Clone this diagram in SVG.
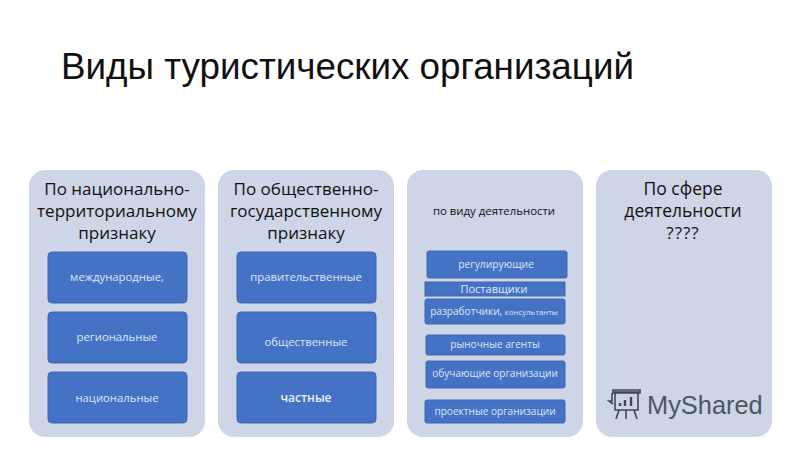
<svg xmlns="http://www.w3.org/2000/svg" width="800" height="450" viewBox="0 0 800 450">
<style>
text{font-family:"Open Sans","Noto Sans","Liberation Sans",sans-serif;text-anchor:middle}
.p{fill:#cdd5e6}
.b{fill:#4472c4;stroke:#3f69b5;stroke-width:1}
.h{font-size:17px;fill:#111}
.t{font-size:11.3px;fill:#dfe7f5}
.s{font-size:10.1px;fill:#dfe7f5}
</style>
<rect width="800" height="450" fill="#fff"/>
<text id="title" x="347.500" y="79" style="font-family:'Liberation Sans',sans-serif;font-size:36.8px;fill:#111">Виды туристических организаций</text>
<g id="col1">
<rect class="p" x="29" y="170" width="176" height="267" rx="16"/>
<text class="h" x="117" y="195">По национально-</text><text class="h" x="117" y="217">территориальному</text><text class="h" x="117" y="239">признаку</text>
</g>
<g id="n1"><rect class="b" x="48" y="252" width="139" height="51" rx="4"/><text class="t" x="117" y="281">международные,</text></g>
<g id="n2"><rect class="b" x="48" y="312" width="139" height="51" rx="4"/><text class="t" x="117" y="341">региональные</text></g>
<g id="n3"><rect class="b" x="48" y="372" width="139" height="51" rx="4"/><text class="t" x="117" y="402">национальные</text></g>
<g id="col2">
<rect class="p" x="218" y="170" width="176" height="267" rx="16"/>
<text class="h" x="306" y="195">По общественно-</text><text class="h" x="306" y="217">государственному</text><text class="h" x="306" y="239">признаку</text>
</g>
<g id="n4"><rect class="b" x="237" y="252" width="139" height="51" rx="4"/><text class="t" x="306" y="281">правительственные</text></g>
<g id="n5"><rect class="b" x="237" y="312" width="139" height="51" rx="4"/><text class="t" x="306" y="346">общественные</text></g>
<g id="n6"><rect class="b" x="237" y="372" width="139" height="51" rx="4"/><text x="306" y="402" style="font-size:12px;font-weight:600;fill:#eef2fa">частные</text></g>
<g id="col3">
<rect class="p" x="407" y="170" width="176" height="267" rx="16"/>
<text x="494" y="215" style="font-size:11.4px;fill:#111">по виду деятельности</text>
</g>
<g id="n7"><rect class="b" x="427" y="251" width="140" height="27" rx="2"/><text class="s" x="496" y="268" style="font-size:10.3px">регулирующие</text></g>
<g id="n8"><rect class="b" x="425" y="282" width="140" height="14"/><text x="494" y="293" style="font-size:11px;fill:#e6ecf8">Поставщики</text></g>
<g id="n9"><rect class="b" x="425" y="299" width="140" height="25" rx="2"/><text class="s" x="494" y="315">разработчики, <tspan style="font-size:7.8px">консультанты</tspan></text></g>
<g id="n10"><rect class="b" x="426" y="335" width="139" height="20" rx="2"/><text class="s" x="495" y="348">рыночные агенты</text></g>
<g id="n11"><rect class="b" x="426" y="361" width="139" height="27" rx="2"/><text class="s" x="495" y="377">обучающие организации</text></g>
<g id="n12"><rect class="b" x="425" y="400" width="140" height="23" rx="2"/><text class="s" x="495" y="415">проектные организации</text></g>
<g id="col4">
<rect class="p" x="596" y="170" width="176" height="267" rx="16"/>
<text class="h" x="683" y="195" style="font-size:17.5px">По сфере</text><text class="h" x="683" y="217" style="font-size:17.5px">деятельности</text><text class="h" x="683" y="239" style="letter-spacing:1px">????</text>
</g>
<g id="watermark" fill="none" stroke="#3c4a52" stroke-width="1.6">
<path d="M613 392h27M612 393v8l-3 0 4 3M613 390h27v3h-27zM615 393v17h23v-17"/>
<path d="M619 410l-3 9M626 410v9M634 410l3 9"/>
<path d="M620 406v-3M625 406v-6M631 406v-9" stroke-width="2.4"/>
<text x="647" y="414" stroke="none" fill="#4a5860" style="text-anchor:start;font-family:'Liberation Sans',sans-serif;font-size:25.4px">MyShared</text>
</g>
</svg>
